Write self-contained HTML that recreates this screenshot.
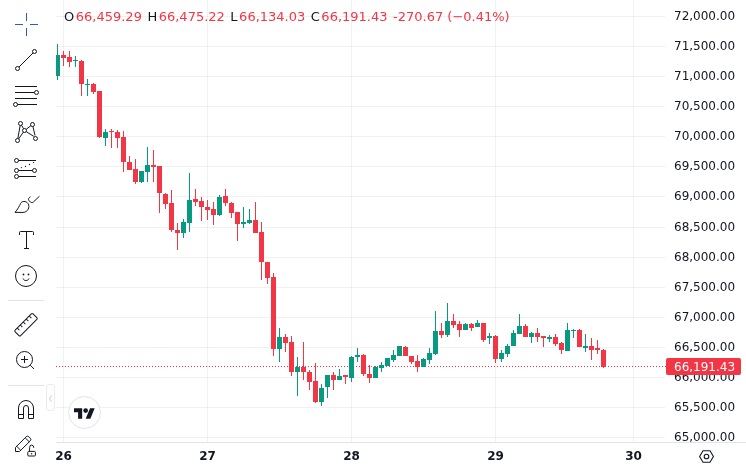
<!DOCTYPE html>
<html><head><meta charset="utf-8"><title>Chart</title>
<style>
html,body{margin:0;padding:0;background:#fff;}
body{width:746px;height:470px;position:relative;overflow:hidden;font-family:"DejaVu Sans","Liberation Sans",sans-serif;color:#131722;}
.chart{position:absolute;left:0;top:0;}
.ic{position:absolute;overflow:visible;}
.sep{position:absolute;left:8px;width:36px;height:1px;background:#e0e3eb;}
.pl{position:absolute;left:674px;width:70px;font-size:12px;line-height:16px;height:16px;white-space:nowrap;}
.tl{position:absolute;top:448px;width:41px;text-align:center;font-size:12px;font-weight:bold;line-height:16px;white-space:nowrap;}
.axline{position:absolute;left:56px;top:442px;width:690px;height:1px;background:#e0e3eb;}
.axmask{position:absolute;left:667px;top:443px;width:79px;height:27px;background:#fff;}
.legend{position:absolute;left:64px;top:9px;font-size:13px;line-height:16px;white-space:nowrap;color:#f23645;}
.legend b{font-weight:normal;color:#131722;margin-right:1.5px;}
.legend span{margin-right:5.5px;}
.cur{position:absolute;left:666px;top:358px;width:75px;height:17px;background:#f23645;border-radius:2px;color:#fff;font-size:12px;line-height:17px;box-sizing:border-box;padding-left:8px;padding-top:1px;white-space:nowrap;}
.logo{position:absolute;left:68px;top:396px;width:33px;height:33px;box-sizing:border-box;border:1px solid #e0e3eb;border-radius:50%;background:#fff;}
.logo svg{position:absolute;left:5px;top:11px;}
.collapse{position:absolute;left:46px;top:384px;width:9px;height:27px;box-sizing:border-box;border:1px solid #e9ebf0;border-radius:3px;background:#fff;}
.gear{position:absolute;left:698px;top:449px;}
</style></head><body>
<svg class="chart" width="746" height="470" viewBox="0 0 746 470" shape-rendering="crispEdges"><g fill="#2a2e39" fill-opacity="0.065"><rect x="56" y="16" width="609" height="1"/><rect x="56" y="46" width="609" height="1"/><rect x="56" y="76" width="609" height="1"/><rect x="56" y="106" width="609" height="1"/><rect x="56" y="136" width="609" height="1"/><rect x="56" y="166" width="609" height="1"/><rect x="56" y="196" width="609" height="1"/><rect x="56" y="227" width="609" height="1"/><rect x="56" y="257" width="609" height="1"/><rect x="56" y="287" width="609" height="1"/><rect x="56" y="317" width="609" height="1"/><rect x="56" y="347" width="609" height="1"/><rect x="56" y="377" width="609" height="1"/><rect x="56" y="407" width="609" height="1"/><rect x="56" y="437" width="609" height="1"/><rect x="63" y="0" width="1" height="442"/><rect x="207" y="0" width="1" height="442"/><rect x="351" y="0" width="1" height="442"/><rect x="495" y="0" width="1" height="442"/><rect x="633" y="0" width="1" height="442"/></g><line x1="56" y1="366.5" x2="667" y2="366.5" stroke="#f23645" stroke-width="1" stroke-dasharray="1 2"/><g fill="#089981"><rect x="57" y="44" width="1" height="36"/><rect x="56" y="55" width="4" height="21"/><rect x="75" y="56" width="1" height="11"/><rect x="73" y="60" width="5" height="1"/><rect x="87" y="79" width="1" height="17"/><rect x="85" y="84" width="5" height="1"/><rect x="105" y="129" width="1" height="17"/><rect x="103" y="132" width="5" height="6"/><rect x="141" y="171" width="1" height="12"/><rect x="139" y="171" width="5" height="11"/><rect x="147" y="147" width="1" height="35"/><rect x="145" y="165" width="5" height="7"/><rect x="183" y="219" width="1" height="19"/><rect x="181" y="222" width="5" height="11"/><rect x="189" y="173" width="1" height="59"/><rect x="187" y="200" width="5" height="23"/><rect x="219" y="195" width="1" height="21"/><rect x="217" y="197" width="5" height="18"/><rect x="243" y="207" width="1" height="21"/><rect x="241" y="222" width="5" height="2"/><rect x="249" y="209" width="1" height="15"/><rect x="247" y="220" width="5" height="3"/><rect x="279" y="328" width="1" height="34"/><rect x="277" y="337" width="5" height="12"/><rect x="297" y="357" width="1" height="39"/><rect x="295" y="367" width="5" height="5"/><rect x="321" y="384" width="1" height="22"/><rect x="319" y="388" width="5" height="14"/><rect x="327" y="375" width="1" height="23"/><rect x="325" y="375" width="5" height="12"/><rect x="339" y="369" width="1" height="11"/><rect x="337" y="376" width="5" height="4"/><rect x="351" y="356" width="1" height="26"/><rect x="349" y="357" width="5" height="21"/><rect x="357" y="348" width="1" height="14"/><rect x="355" y="355" width="5" height="2"/><rect x="375" y="366" width="1" height="12"/><rect x="373" y="367" width="5" height="11"/><rect x="381" y="362" width="1" height="10"/><rect x="379" y="365" width="5" height="3"/><rect x="387" y="358" width="1" height="8"/><rect x="385" y="358" width="5" height="8"/><rect x="393" y="350" width="1" height="12"/><rect x="391" y="355" width="5" height="5"/><rect x="399" y="346" width="1" height="10"/><rect x="397" y="346" width="5" height="10"/><rect x="423" y="358" width="1" height="9"/><rect x="421" y="359" width="5" height="8"/><rect x="429" y="348" width="1" height="16"/><rect x="427" y="353" width="5" height="7"/><rect x="435" y="311" width="1" height="44"/><rect x="433" y="331" width="5" height="23"/><rect x="447" y="303" width="1" height="34"/><rect x="445" y="321" width="5" height="14"/><rect x="465" y="323" width="1" height="7"/><rect x="463" y="324" width="5" height="6"/><rect x="477" y="320" width="1" height="7"/><rect x="475" y="323" width="5" height="4"/><rect x="489" y="333" width="1" height="11"/><rect x="487" y="336" width="5" height="2"/><rect x="501" y="350" width="1" height="12"/><rect x="499" y="353" width="5" height="6"/><rect x="507" y="344" width="1" height="13"/><rect x="505" y="346" width="5" height="8"/><rect x="513" y="330" width="1" height="16"/><rect x="511" y="333" width="5" height="13"/><rect x="519" y="314" width="1" height="20"/><rect x="517" y="326" width="5" height="8"/><rect x="531" y="332" width="1" height="11"/><rect x="529" y="333" width="5" height="4"/><rect x="549" y="335" width="1" height="7"/><rect x="547" y="337" width="5" height="2"/><rect x="567" y="323" width="1" height="28"/><rect x="565" y="330" width="5" height="21"/><rect x="573" y="329" width="1" height="9"/><rect x="571" y="330" width="5" height="1"/><rect x="585" y="334" width="1" height="18"/><rect x="583" y="346" width="5" height="2"/></g><g fill="#f23645"><rect x="63" y="51" width="1" height="15"/><rect x="61" y="55" width="5" height="3"/><rect x="69" y="51" width="1" height="16"/><rect x="67" y="57" width="5" height="5"/><rect x="81" y="60" width="1" height="36"/><rect x="79" y="61" width="5" height="23"/><rect x="93" y="83" width="1" height="11"/><rect x="91" y="84" width="5" height="8"/><rect x="99" y="91" width="1" height="47"/><rect x="97" y="91" width="5" height="46"/><rect x="111" y="129" width="1" height="19"/><rect x="109" y="131" width="5" height="1"/><rect x="117" y="130" width="1" height="18"/><rect x="115" y="132" width="5" height="6"/><rect x="123" y="131" width="1" height="41"/><rect x="121" y="137" width="5" height="25"/><rect x="129" y="156" width="1" height="14"/><rect x="127" y="162" width="5" height="8"/><rect x="135" y="159" width="1" height="25"/><rect x="133" y="169" width="5" height="13"/><rect x="153" y="150" width="1" height="32"/><rect x="151" y="165" width="5" height="2"/><rect x="159" y="166" width="1" height="47"/><rect x="157" y="166" width="5" height="27"/><rect x="165" y="193" width="1" height="16"/><rect x="163" y="194" width="5" height="10"/><rect x="171" y="190" width="1" height="42"/><rect x="169" y="203" width="5" height="27"/><rect x="177" y="223" width="1" height="27"/><rect x="175" y="230" width="5" height="3"/><rect x="195" y="189" width="1" height="17"/><rect x="193" y="199" width="5" height="3"/><rect x="201" y="197" width="1" height="24"/><rect x="199" y="201" width="5" height="6"/><rect x="207" y="200" width="1" height="20"/><rect x="205" y="207" width="5" height="3"/><rect x="213" y="202" width="1" height="23"/><rect x="211" y="209" width="5" height="6"/><rect x="225" y="189" width="1" height="17"/><rect x="223" y="196" width="5" height="7"/><rect x="231" y="202" width="1" height="16"/><rect x="229" y="203" width="5" height="10"/><rect x="237" y="212" width="1" height="29"/><rect x="235" y="212" width="5" height="12"/><rect x="255" y="202" width="1" height="31"/><rect x="253" y="220" width="5" height="13"/><rect x="261" y="222" width="1" height="58"/><rect x="259" y="232" width="5" height="30"/><rect x="267" y="262" width="1" height="22"/><rect x="265" y="262" width="5" height="16"/><rect x="273" y="273" width="1" height="83"/><rect x="271" y="277" width="5" height="72"/><rect x="285" y="334" width="1" height="18"/><rect x="283" y="337" width="5" height="6"/><rect x="291" y="336" width="1" height="40"/><rect x="289" y="342" width="5" height="30"/><rect x="303" y="342" width="1" height="38"/><rect x="301" y="367" width="5" height="5"/><rect x="309" y="370" width="1" height="20"/><rect x="307" y="372" width="5" height="10"/><rect x="315" y="363" width="1" height="40"/><rect x="313" y="381" width="5" height="21"/><rect x="333" y="372" width="1" height="18"/><rect x="331" y="375" width="5" height="5"/><rect x="345" y="375" width="1" height="9"/><rect x="343" y="375" width="5" height="2"/><rect x="363" y="354" width="1" height="22"/><rect x="361" y="355" width="5" height="19"/><rect x="369" y="365" width="1" height="18"/><rect x="367" y="374" width="5" height="4"/><rect x="405" y="346" width="1" height="10"/><rect x="403" y="347" width="5" height="9"/><rect x="411" y="356" width="1" height="8"/><rect x="409" y="356" width="5" height="6"/><rect x="417" y="355" width="1" height="17"/><rect x="415" y="361" width="5" height="6"/><rect x="441" y="323" width="1" height="15"/><rect x="439" y="331" width="5" height="4"/><rect x="453" y="314" width="1" height="14"/><rect x="451" y="321" width="5" height="4"/><rect x="459" y="321" width="1" height="16"/><rect x="457" y="324" width="5" height="6"/><rect x="471" y="323" width="1" height="8"/><rect x="469" y="324" width="5" height="4"/><rect x="483" y="323" width="1" height="19"/><rect x="481" y="323" width="5" height="17"/><rect x="495" y="335" width="1" height="28"/><rect x="493" y="336" width="5" height="23"/><rect x="525" y="324" width="1" height="13"/><rect x="523" y="326" width="5" height="11"/><rect x="537" y="328" width="1" height="14"/><rect x="535" y="333" width="5" height="4"/><rect x="543" y="336" width="1" height="11"/><rect x="541" y="336" width="5" height="2"/><rect x="555" y="334" width="1" height="12"/><rect x="553" y="337" width="5" height="7"/><rect x="561" y="342" width="1" height="12"/><rect x="559" y="343" width="5" height="7"/><rect x="579" y="329" width="1" height="18"/><rect x="577" y="330" width="5" height="17"/><rect x="591" y="338" width="1" height="22"/><rect x="589" y="346" width="5" height="4"/><rect x="597" y="340" width="1" height="14"/><rect x="595" y="348" width="5" height="2"/><rect x="603" y="349" width="1" height="19"/><rect x="601" y="350" width="5" height="17"/></g></svg>
<div class="prices"><div class="pl" style="top:8px">72,000.00</div><div class="pl" style="top:38px">71,500.00</div><div class="pl" style="top:68px">71,000.00</div><div class="pl" style="top:98px">70,500.00</div><div class="pl" style="top:128px">70,000.00</div><div class="pl" style="top:158px">69,500.00</div><div class="pl" style="top:188px">69,000.00</div><div class="pl" style="top:219px">68,500.00</div><div class="pl" style="top:249px">68,000.00</div><div class="pl" style="top:279px">67,500.00</div><div class="pl" style="top:309px">67,000.00</div><div class="pl" style="top:339px">66,500.00</div><div class="pl" style="top:369px">66,000.00</div><div class="pl" style="top:399px">65,500.00</div><div class="pl" style="top:429px">65,000.00</div></div>
<div class="axline"></div><div class="axmask"></div>
<div class="times"><div class="tl" style="left:43px">26</div><div class="tl" style="left:187px">27</div><div class="tl" style="left:331px">28</div><div class="tl" style="left:475px">29</div><div class="tl" style="left:613px">30</div></div>
<div class="cur">66,191.43</div>
<div class="legend"><span><b>O</b>66,459.29</span><span><b>H</b>66,475.22</span><span><b>L</b>66,134.03</span><span><b>C</b>66,191.43</span><span>-270.67 (−0.41%)</span></div>
<div class="toolbar"><svg class="ic" style="left:12px;top:10px" width="28" height="28" viewBox="0 0 28 28" fill="#3355d0" shape-rendering="crispEdges"><path d="M18 15h8v-1h-8zM14 18v8h1v-8zM14 3v8h1v-8zM3 15h8v-1h-8z"/></svg><svg class="ic" style="left:12px;top:46px" width="28" height="28" viewBox="0 0 28 28" fill="none" stroke="#131722" stroke-width="1"><path d="M7 21L21 7"/><circle cx="22.5" cy="5.500" r="2"/><circle cx="5.500" cy="22.500" r="2"/></svg><svg class="ic" style="left:12px;top:82px" width="28" height="28" viewBox="0 0 28 28" fill="none" stroke="#131722" stroke-width="1"><path d="M3 4.500H25M3 10.500H22.500M3 16.500H25M5.500 22.500H25"/><circle cx="24.500" cy="10.500" r="2"/><circle cx="3.500" cy="22.500" r="2"/></svg><svg class="ic" style="left:12px;top:118px" width="28" height="28" viewBox="0 0 28 28" fill="none" stroke="#131722" stroke-width="1"><path d="M8.150 7.500L5.850 20.500M9.500 7.200L11.500 10.700M6.700 20.800L11.400 14.100M14.200 11.300L18.900 7.700M14.200 13.600L21.800 18.400M20.900 8.400L23 17.500"/><circle cx="8.500" cy="5.500" r="2"/><circle cx="5.500" cy="22.500" r="2"/><circle cx="12.500" cy="12.500" r="2"/><circle cx="20.500" cy="6.500" r="2"/><circle cx="23.500" cy="20.500" r="2"/></svg><svg class="ic" style="left:12px;top:154px" width="28" height="28" viewBox="0 0 28 28" fill="none" stroke="#131722" stroke-width="1"><path d="M6.500 6.500H24M6.500 16.500H20.500M6.500 22.500H24"/><g fill="#131722" stroke="none"><circle cx="9.400" cy="13.600" r="0.650"/><circle cx="13.500" cy="12.400" r="0.650"/><circle cx="17.500" cy="10.500" r="0.650"/><circle cx="21.600" cy="8.600" r="0.650"/></g><circle cx="4.500" cy="6.500" r="2"/><circle cx="4.500" cy="16.500" r="2"/><circle cx="4.500" cy="22.500" r="2"/><circle cx="22.500" cy="16.500" r="2"/></svg><svg class="ic" style="left:12px;top:190px" width="28" height="28" viewBox="0 0 28 28" fill="none" stroke="#131722" stroke-width="1"><path d="M3 22.400C5.500 19.500 7.500 16 8.600 13.400C9.600 11 14 10.600 16 13.500C18.300 17 15.800 22.400 11 22.400Z"/><path d="M18.400 6.600L17.200 7.800C16.200 8.800 16.300 9.900 17.100 10.700L18.400 12C19.300 12.800 20.600 12.800 21.500 11.900L27.500 6.200"/></svg><svg class="ic" style="left:12px;top:226px" width="28" height="28" viewBox="0 0 28 28" fill="none" stroke="#131722" stroke-width="1"><path d="M7.500 9V6.500Q7.500 5.500 8.500 5.500H20.500Q21.500 5.500 21.500 6.500V9M14.500 5.500V22.500M12 22.500H17"/></svg><svg class="ic" style="left:12px;top:262px" width="28" height="28" viewBox="0 0 28 28" fill="none" stroke="#131722" stroke-width="1"><circle cx="14" cy="14" r="10.500"/><circle cx="11.500" cy="12.500" r="0.900" fill="#131722" stroke="none"/><circle cx="16.500" cy="12.500" r="0.900" fill="#131722" stroke="none"/><path d="M11 16.500C12 19.200 16 19.200 17 16.500"/></svg><svg class="ic" style="left:12px;top:312px" width="28" height="28" viewBox="0 0 28 28" fill="none" stroke="#131722" stroke-width="1"><g transform="translate(14 12.750) rotate(-45)"><rect x="-12.650" y="-3.900" width="25.300" height="7.800" rx="1.200"/><path d="M-8.500 -3.900V-0.900M-4.250 -3.900V-0.900M0 -3.900V-0.900M4.250 -3.900V-0.900M8.500 -3.900V-0.900"/></g></svg><svg class="ic" style="left:12px;top:348px" width="28" height="28" viewBox="0 0 28 28" fill="none" stroke="#131722" stroke-width="1"><circle cx="12.500" cy="11.500" r="8"/><path d="M9 11.500H16M12.500 8V15M18.200 17.200L22 21"/></svg><svg class="ic" style="left:12px;top:396px" width="28" height="28" viewBox="0 0 28 28" fill="none" stroke="#131722" stroke-width="1"><path d="M6.500 22.500V12a7.500 7.500 0 0 1 15 0V22.500H16.500V12a2.500 2.500 0 0 0 -5 0V22.500ZM6.500 18.500H11.500M16.500 18.500H21.500"/></svg><svg class="ic" style="left:12px;top:432px" width="28" height="28" viewBox="0 0 28 28" fill="none" stroke="#131722" stroke-width="1"><path d="M3.500 19.500V15.500L14.200 4.700Q15.500 3.500 16.800 4.700L18.300 6.200Q19.500 7.500 18.300 8.800L7.500 19.500ZM4.700 14.300L8.800 18.300M13.200 5.800L17.300 9.800"/><rect x="15.800" y="19.400" width="7.600" height="4.600" rx="1"/><path d="M17.600 19.400V15.500Q17.600 13.100 19.650 13.100Q21.700 13.100 21.700 15.500V16"/><circle cx="19.600" cy="21.700" r="0.700" fill="#131722" stroke="none"/></svg><div class="sep" style="top:300px"></div><div class="sep" style="top:385px"></div></div>
<div class="collapse"><svg width="7" height="25" viewBox="0 0 7 25" fill="none" stroke="#c5c8d0" stroke-width="1"><path d="M4.500 10.500L2.500 13.500L4.500 16.500"/></svg></div>
<div class="logo"><svg width="21" height="11" viewBox="0 0 36 18" fill="#131722"><path d="M14 18H7V7H0V0h14v18zM28 18h-8l7.500-18h8L28 18z"/><circle cx="20" cy="4" r="4"/></svg></div>
<svg class="gear" width="17" height="15" viewBox="0 0 17 15" fill="none" stroke="#131722" stroke-width="1.100"><path d="M1.600 7.500L5 1.700H12L15.400 7.500L12 13.300H5Z"/><circle cx="8.500" cy="7.500" r="2.300"/></svg>
</body></html>
